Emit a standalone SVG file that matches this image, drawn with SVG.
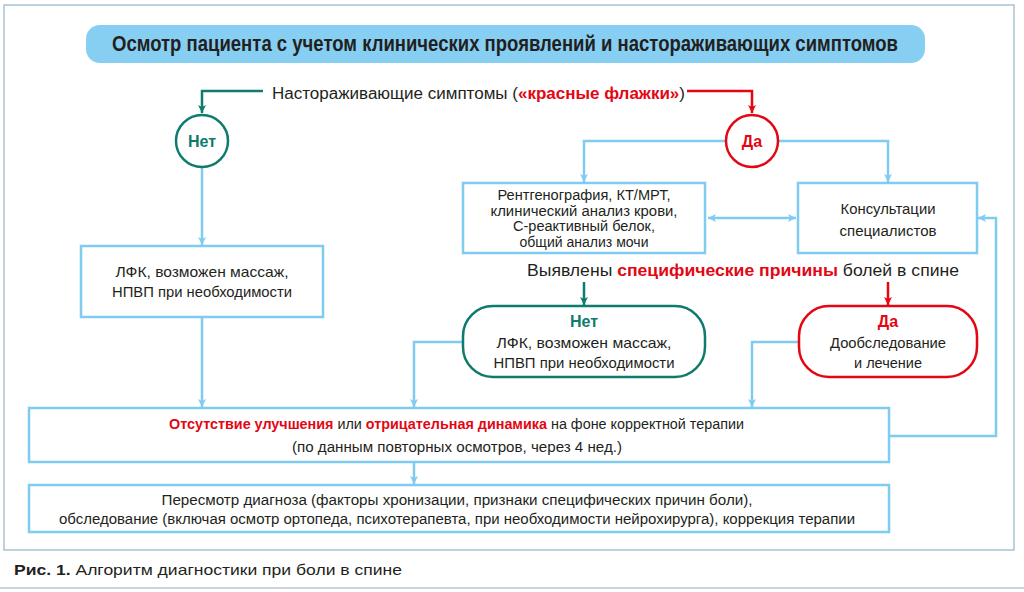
<svg xmlns="http://www.w3.org/2000/svg" width="1024" height="592" viewBox="0 0 1024 592">
<style>
text{font-family:"Liberation Sans",Arial,sans-serif;fill:#231f20;}
.c{text-anchor:middle}
.b{font-weight:bold}
.red{fill:#e30613;font-weight:bold}
.teal{fill:#0f7b6c;font-weight:bold}
.box{fill:#fff;stroke:#80ccf0;stroke-width:2.5}
.bl{fill:none;stroke:#80ccf0;stroke-width:2.5}
.tl{fill:none;stroke:#0f7b6c;stroke-width:2.5}
.rl{fill:none;stroke:#e30613;stroke-width:2.5}
</style>
<defs>
<marker id="ab" markerUnits="userSpaceOnUse" markerWidth="10" markerHeight="10" viewBox="0 0 10 10" refX="9" refY="5" orient="auto-start-reverse"><path d="M1,1 L9,5 L1,9 L3,5 z" fill="#80ccf0"/></marker>
<marker id="at" markerUnits="userSpaceOnUse" markerWidth="10" markerHeight="10" viewBox="0 0 10 10" refX="9" refY="5" orient="auto"><path d="M1,1 L9,5 L1,9 L3,5 z" fill="#0f7b6c"/></marker>
<marker id="ar" markerUnits="userSpaceOnUse" markerWidth="10" markerHeight="10" viewBox="0 0 10 10" refX="9" refY="5" orient="auto"><path d="M1,1 L9,5 L1,9 L3,5 z" fill="#e30613"/></marker>
</defs>
<rect x="0" y="0" width="1024" height="592" fill="#fff"/>
<rect x="4" y="5" width="1010" height="545" fill="none" stroke="#a9c2d3" stroke-width="1.5"/>
<g id="title">
<rect x="86" y="25" width="839" height="38" rx="14" fill="#86cff3"/>
<text x="505" y="51" class="c b" font-size="22" textLength="786" lengthAdjust="spacingAndGlyphs">Осмотр пациента с учетом клинических проявлений и настораживающих симптомов</text>
</g>
<g id="question1">
<text x="272" y="99" font-size="16" textLength="413" lengthAdjust="spacingAndGlyphs">Настораживающие симптомы (<tspan class="red">«красные флажки»</tspan>)</text>
</g>
<g id="connectors">
<path class="tl" d="M263,91 H202 V113" marker-end="url(#at)"/>
<path class="rl" d="M687,91 H752 V113" marker-end="url(#ar)"/>
<path class="bl" d="M726,141 H584 V182" marker-end="url(#ab)"/>
<path class="bl" d="M778,141 H888 V182" marker-end="url(#ab)"/>
<path class="bl" d="M708,218 H796" marker-start="url(#ab)" marker-end="url(#ab)"/>
<path class="tl" d="M584,282 V305" marker-end="url(#at)"/>
<path class="rl" d="M888,282 V305" marker-end="url(#ar)"/>
<path class="bl" d="M202,167 V245" marker-end="url(#ab)"/>
<path class="bl" d="M202,317 V407" marker-end="url(#ab)"/>
<path class="bl" d="M463,342 H414 V407" marker-end="url(#ab)"/>
<path class="bl" d="M799,342 H752 V407" marker-end="url(#ab)"/>
<path class="bl" d="M414,462 V484" marker-end="url(#ab)"/>
<path class="bl" d="M889,436 H996 V218 H978" marker-end="url(#ab)"/>
</g>
<g id="no-circle">
<circle cx="202" cy="141" r="26" fill="#fff" stroke="#0f7b6c" stroke-width="2.5"/>
<text x="202" y="147" class="c teal" font-size="16">Нет</text>
</g>
<g id="yes-circle">
<circle cx="752" cy="141" r="26" fill="#fff" stroke="#e30613" stroke-width="2.5"/>
<text x="752" y="147" class="c red" font-size="16">Да</text>
</g>
<g id="lfk-left">
<rect class="box" x="81" y="246" width="242" height="71"/>
<text x="202" y="277" class="c" font-size="15" textLength="173" lengthAdjust="spacingAndGlyphs">ЛФК, возможен массаж,</text>
<text x="202" y="297" class="c" font-size="15" textLength="180" lengthAdjust="spacingAndGlyphs">НПВП при необходимости</text>
</g>
<g id="exams">
<rect class="box" x="463" y="183" width="242" height="70"/>
<text x="584" y="200" class="c" font-size="14" textLength="173" lengthAdjust="spacingAndGlyphs">Рентгенография, КТ/МРТ,</text>
<text x="584" y="215.5" class="c" font-size="14" textLength="187" lengthAdjust="spacingAndGlyphs">клинический анализ крови,</text>
<text x="584" y="231" class="c" font-size="14" textLength="142" lengthAdjust="spacingAndGlyphs">С-реактивный белок,</text>
<text x="584" y="246.5" class="c" font-size="14" textLength="129" lengthAdjust="spacingAndGlyphs">общий анализ мочи</text>
</g>
<g id="consult">
<rect class="box" x="798" y="183" width="179" height="70"/>
<text x="888" y="214" class="c" font-size="14" textLength="95" lengthAdjust="spacingAndGlyphs">Консультации</text>
<text x="888" y="236" class="c" font-size="14" textLength="97" lengthAdjust="spacingAndGlyphs">специалистов</text>
</g>
<g id="question2">
<text x="527" y="276" font-size="16" textLength="432" lengthAdjust="spacingAndGlyphs">Выявлены <tspan class="red">специфические причины</tspan> болей в спине</text>
</g>
<g id="no-box">
<rect x="463" y="306" width="242" height="71" rx="30" fill="#fff" stroke="#0f7b6c" stroke-width="2.5"/>
<text x="584" y="327" class="c teal" font-size="16">Нет</text>
<text x="584" y="348" class="c" font-size="15" textLength="175" lengthAdjust="spacingAndGlyphs">ЛФК, возможен массаж,</text>
<text x="584" y="368" class="c" font-size="15" textLength="181" lengthAdjust="spacingAndGlyphs">НПВП при необходимости</text>
</g>
<g id="yes-box">
<rect x="799" y="306" width="178" height="71" rx="30" fill="#fff" stroke="#e30613" stroke-width="2.5"/>
<text x="888" y="327" class="c red" font-size="16">Да</text>
<text x="888" y="348" class="c" font-size="15" textLength="116" lengthAdjust="spacingAndGlyphs">Дообследование</text>
<text x="888" y="368" class="c" font-size="15" textLength="68" lengthAdjust="spacingAndGlyphs">и лечение</text>
</g>
<g id="no-improvement">
<rect class="box" x="29" y="408" width="860" height="54"/>
<text x="169" y="429" font-size="14" textLength="575" lengthAdjust="spacingAndGlyphs"><tspan class="red">Отсутствие улучшения</tspan> или <tspan class="red">отрицательная динамика</tspan> на фоне корректной терапии</text>
<text x="457" y="452" class="c" font-size="14" textLength="330" lengthAdjust="spacingAndGlyphs">(по данным повторных осмотров, через 4 нед.)</text>
</g>
<g id="revision">
<rect class="box" x="29" y="485" width="860" height="47"/>
<text x="457" y="505" class="c" font-size="14" textLength="591" lengthAdjust="spacingAndGlyphs">Пересмотр диагноза (факторы хронизации, признаки специфических причин боли),</text>
<text x="457" y="524" class="c" font-size="14" textLength="796" lengthAdjust="spacingAndGlyphs">обследование (включая осмотр ортопеда, психотерапевта, при необходимости нейрохирурга), коррекция терапии</text>
</g>
<g id="caption">
<text x="14" y="575" font-size="15" textLength="388" lengthAdjust="spacingAndGlyphs"><tspan class="b">Рис. 1.</tspan> Алгоритм диагностики при боли в спине</text>
<line x1="0" y1="588" x2="1024" y2="588" stroke="#b9c4cc" stroke-width="1.5"/>
</g>
</svg>
